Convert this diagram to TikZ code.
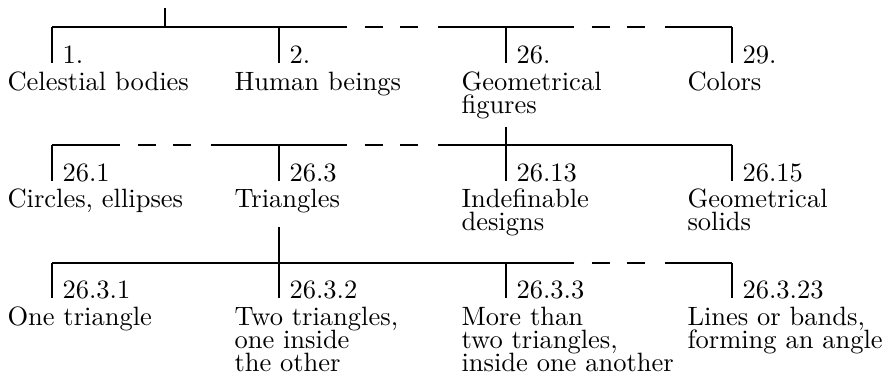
\documentclass[tikz,border=0pt]{standalone}

\begin{document}
\begin{tikzpicture}[
    x=0.3774pt, y=-0.3774pt, % one unit = one pixel of the layout grid
    thin,
    itemnum/.style={anchor=base west, inner sep=0pt},
    % first baseline sits on the given point (ascender height 6.94pt)
    itemtext/.style={anchor=north west, yshift=6.94pt, inner sep=0pt, align=left,
        font={\fontsize{10}{8.6}\selectfont\lineskiplimit=-10pt\relax}},
    gapbar/.style={dash pattern=on 25.7pt off 6.6pt on 6.8pt off 6.6pt on 6.9pt off 7.4pt on 26pt}
]

% --- 1. FRAME ---
\useasboundingbox (0,0) rectangle (885,379);

% --- 2. TOP LEVEL ---
\coordinate (root) at (165,8);
\coordinate (r1) at (165,27);
\coordinate (p1) at (52,27);
\coordinate (p2) at (279,27);
\coordinate (p26) at (506,27);
\coordinate (p29) at (732,27);

\node[itemnum] (n1) at (62,63) {1.};
\node[itemnum] (n2) at (289,63) {2.};
\node[itemnum] (n26) at (516,63) {26.};
\node[itemnum] (n29) at (742,63) {29.};

\node[itemtext] (t1) at (7,90) {Celestial bodies};
\node[itemtext] (t2) at (234,90) {Human beings};
\node[itemtext] (t26) at (461,90) {Geometrical\\figures};
\node[itemtext] (t29) at (687,90) {Colors};

\draw (root) -- (r1);
\draw (p1) -- (p2);
\draw[gapbar] (p2) -- (p26);
\draw[gapbar] (p26) -- (p29);
\draw (p1) -- (p1 |- n1.base);
\draw (p2) -- (p2 |- n2.base);
\draw (p26) -- (p26 |- n26.base);
\draw (p29) -- (p29 |- n29.base);

% --- 3. SECOND LEVEL (under 26.) ---
\coordinate (s26) at (506,127);
\coordinate (p261) at (52,145);
\coordinate (p263) at (279,145);
\coordinate (p2613) at (506,145);
\coordinate (p2615) at (732,145);

\node[itemnum] (n261) at (62,181) {26.1};
\node[itemnum] (n263) at (289,181) {26.3};
\node[itemnum] (n2613) at (516,181) {26.13};
\node[itemnum] (n2615) at (742,181) {26.15};

\node[itemtext] (t261) at (7,207) {Circles, ellipses};
\node[itemtext] (t263) at (234,207) {Triangles};
\node[itemtext] (t2613) at (461,207) {Indefinable\\designs};
\node[itemtext] (t2615) at (687,207) {Geometrical\\solids};

\draw (s26) -- (p2613);
\draw[gapbar] (p261) -- (p263);
\draw[gapbar] (p263) -- (p2613);
\draw (p2613) -- (p2615);
\draw (p261) -- (p261 |- n261.base);
\draw (p263) -- (p263 |- n263.base);
\draw (p2613) -- (p2613 |- n2613.base);
\draw (p2615) -- (p2615 |- n2615.base);

% --- 4. THIRD LEVEL (under 26.3) ---
\coordinate (s263) at (279,227);
\coordinate (p2631) at (52,263);
\coordinate (p2632) at (279,263);
\coordinate (p2633) at (506,263);
\coordinate (p26323) at (732,263);

\node[itemnum] (n2631) at (62,298) {26.3.1};
\node[itemnum] (n2632) at (289,298) {26.3.2};
\node[itemnum] (n2633) at (516,298) {26.3.3};
\node[itemnum] (n26323) at (742,298) {26.3.23};

\node[itemtext] (t2631) at (7,325) {One triangle};
\node[itemtext] (t2632) at (234,325) {Two triangles,\\one inside\\the other};
\node[itemtext] (t2633) at (461,325) {More than\\two triangles,\\inside one another};
\node[itemtext] (t26323) at (687,325) {Lines or bands,\\forming an angle};

\draw (s263) -- (p2632);
\draw (p2631) -- (p2632);
\draw (p2632) -- (p2633);
\draw[gapbar] (p2633) -- (p26323);
\draw (p2631) -- (p2631 |- n2631.base);
\draw (p2632) -- (p2632 |- n2632.base);
\draw (p2633) -- (p2633 |- n2633.base);
\draw (p26323) -- (p26323 |- n26323.base);

\end{tikzpicture}
\end{document}
